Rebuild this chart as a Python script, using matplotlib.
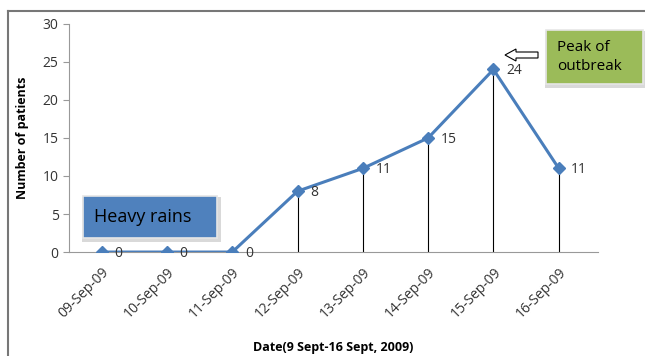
import matplotlib
matplotlib.use("Agg")
import matplotlib.pyplot as plt
from matplotlib.patches import Rectangle, FancyArrow
from matplotlib.lines import Line2D

dates = ["09-Sep-09", "10-Sep-09", "11-Sep-09", "12-Sep-09",
         "13-Sep-09", "14-Sep-09", "15-Sep-09", "16-Sep-09"]
patients = [0, 0, 0, 8, 11, 15, 24, 11]
yticks = [0, 5, 10, 15, 20, 25, 30]

plt.rcParams['font.family'] = ['Open Sans', 'DejaVu Sans']

W, H = 645, 356
fig = plt.figure(figsize=(6.45, 3.56), dpi=100)
ax = fig.add_axes([0.107, 0.292, 0.82, 0.641])

x = list(range(len(dates)))
blue = "#4A7EBB"
ax.vlines(x, 0, patients, color="black", linewidth=0.8, zorder=2)
ax.plot(x, patients, color=blue, linewidth=2.2, marker="D", markersize=6, zorder=3)
for xi, v in zip(x, patients):
    ax.annotate(str(v), (xi, v), xytext=(9, -1), textcoords="offset points",
                fontsize=10, color="#333333", va="center", ha="left")

ax.set_xlim(-0.5, 7.6)
ax.set_ylim(0, 30)
ax.set_yticks(yticks)
ax.set_xticks(x)
ax.set_xticklabels(dates, rotation=45, ha="right", rotation_mode="anchor", fontsize=10, color="#333333")
ax.tick_params(axis="y", labelsize=10, colors="#333333", length=4, color="#999999")
ax.tick_params(axis="x", length=0, pad=9)
for s in ["top", "right"]:
    ax.spines[s].set_visible(False)
ax.spines["left"].set_color("#999999")
ax.spines["bottom"].set_color("#999999")
ax.set_ylabel("Number of patients", fontsize=9, fontweight="bold", labelpad=10)
fig.text(333 / W, 1 - 347 / H, "Date(9 Sept-16 Sept, 2009)", fontsize=9, fontweight="bold",
         ha="center", va="center")

# outer frame
fig.add_artist(Line2D([8/W, 8/W], [0, 1 - 11/H], transform=fig.transFigure, color="#777777", linewidth=1.5))
fig.add_artist(Line2D([8/W, 1], [1 - 11/H, 1 - 11/H], transform=fig.transFigure, color="#777777", linewidth=1.5))

def box(x0, y0, x1, y1, color, text, fs):
    # shadow
    fig.add_artist(Rectangle(((x0 - 1) / W, 1 - (y1 + 4) / H), (x1 - x0 + 5) / W, (y1 - y0 + 3) / H,
                             transform=fig.transFigure, facecolor="#d9d9d9", edgecolor="none", zorder=4))
    fig.add_artist(Rectangle((x0 / W, 1 - y1 / H), (x1 - x0) / W, (y1 - y0) / H,
                             transform=fig.transFigure, facecolor=color, edgecolor="#e6e6e6", linewidth=1.2, zorder=5))
    fig.text((x0 + 11) / W, 1 - ((y0 + y1) / 2) / H, text, fontsize=fs, va="center", ha="left",
             color="black", zorder=6, linespacing=1.4)

box(83, 196, 217, 238, "#4F81BD", "Heavy rains", 13)
box(546, 30, 643, 84, "#9BBB59", "Peak of\noutbreak", 11)

fig.add_artist(FancyArrow(538 / W, 1 - 55 / H, -33 / W, 0, width=6 / H, head_width=12 / H,
                          head_length=11 / W, length_includes_head=True, transform=fig.transFigure,
                          facecolor="white", edgecolor="black", linewidth=0.8, zorder=6))

fig.savefig("out.png", dpi=100)
